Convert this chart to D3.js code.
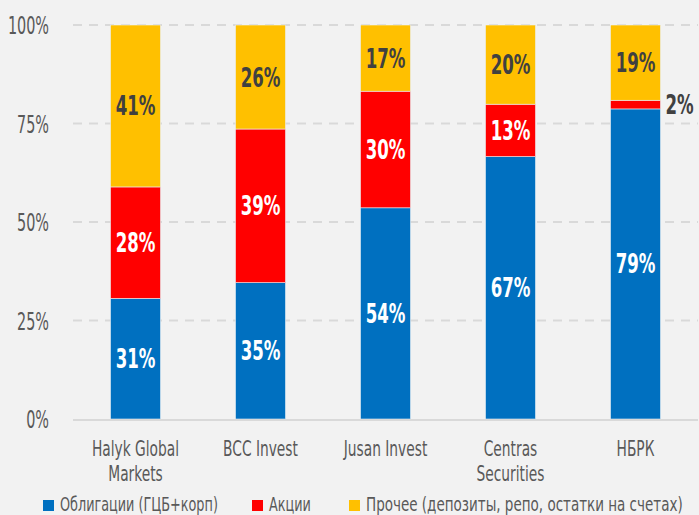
<!DOCTYPE html>
<html>
<head>
<meta charset="utf-8">
<script src="https://cdn.jsdelivr.net/npm/d3@7"></script>
<style>
  body { margin: 0; background: #F2F2F2; }
  svg { display: block; font-family: "DejaVu Sans Condensed", "DejaVu Sans", sans-serif; }
</style>
</head>
<body>
<svg id="chart" width="699" height="515"></svg>
<script>
// data
const categories = [["Halyk Global", "Markets"], ["BCC Invest"], ["Jusan Invest"], ["Centras", "Securities"], ["НБРК"]];
const seriesNames = ["Облигации (ГЦБ+корп)", "Акции", "Прочее (депозиты, репо, остатки на счетах)"];
const bonds  = [30.6, 34.6, 53.6, 66.6, 78.7];
const stocks = [28.3, 39.0, 29.6, 13.3, 2.2];
const other  = [41.1, 26.4, 16.8, 20.1, 19.1];
const yTicks = [0, 25, 50, 75, 100];
const colors = ["#0070C0", "#FF0000", "#FFC000"];

const svg = d3.select('#chart');
const plotLeft = 73, plotRight = 698, plotTop = 25, plotBottom = 419;

const x = d3.scaleBand()
    .domain(d3.range(categories.length))
    .range([plotLeft, plotRight])
    .paddingInner(0.6)
    .paddingOuter(0.3);
const y = d3.scaleLinear().domain([0, 100]).range([plotBottom, plotTop]);

// squeeze text horizontally, the original font is a narrow DIN-like face
function place(px, py, sx) {
    return `translate(${px},${py}) scale(${sx},1)`;
}

// gridlines
svg.append('g')
    .selectAll('line')
    .data(yTicks.filter(d => d > 0))
    .join('line')
    .attr('x1', plotLeft)
    .attr('x2', plotRight)
    .attr('y1', d => y(d))
    .attr('y2', d => y(d))
    .attr('stroke', '#D9D9D9')
    .attr('stroke-width', 2)
    .attr('stroke-dasharray', '9,7');

// y tick labels
svg.append('g')
    .selectAll('text')
    .data(yTicks)
    .join('text')
    .attr('transform', d => place(49, y(d) + 9, 0.64))
    .attr('text-anchor', 'end')
    .attr('font-size', 25)
    .attr('fill', '#595959')
    .text(d => d + '%');

// stack
const rows = categories.map((c, i) => ({i: i, bonds: bonds[i], stocks: stocks[i], other: other[i]}));
const stack = d3.stack().keys(['bonds', 'stocks', 'other'])(rows);

const layers = svg.append('g')
    .selectAll('g')
    .data(stack)
    .join('g')
    .attr('fill', (d, k) => colors[k]);

layers.selectAll('rect')
    .data(d => d)
    .join('rect')
    .attr('x', d => x(d.data.i))
    .attr('width', x.bandwidth())
    .attr('y', d => y(d[1]))
    .attr('height', d => y(d[0]) - y(d[1]))
    .attr('stroke', '#EAF0F6')
    .attr('stroke-width', 0.6);

// baseline
svg.append('line')
    .attr('x1', plotLeft)
    .attr('x2', plotRight)
    .attr('y1', plotBottom + 1)
    .attr('y2', plotBottom + 1)
    .attr('stroke', '#D9D9D9')
    .attr('stroke-width', 2);

// value labels
stack.forEach((layer, k) => {
    svg.append('g')
        .selectAll('text')
        .data(layer)
        .join('text')
        .attr('transform', d => {
            const small = (d[1] - d[0]) < 5;
            const px = small ? x(d.data.i) + x.bandwidth() + 5 : x(d.data.i) + x.bandwidth() / 2;
            return place(px, y((d[0] + d[1]) / 2) + 9.5, 0.71);
        })
        .attr('text-anchor', d => (d[1] - d[0]) < 5 ? 'start' : 'middle')
        .attr('font-size', 26)
        .attr('font-weight', 'bold')
        .attr('fill', d => (k === 2 || (d[1] - d[0]) < 5) ? '#404040' : '#FFFFFF')
        .text(d => Math.round(d[1] - d[0]) + '%');
});

// category labels
svg.append('g')
    .selectAll('g')
    .data(categories)
    .join('g')
    .each(function(lines, i) {
        d3.select(this)
            .selectAll('text')
            .data(lines)
            .join('text')
            .attr('transform', (d, j) => place(x(i) + x.bandwidth() / 2, 456 + j * 25, 0.73))
            .attr('text-anchor', 'middle')
            .attr('font-size', 21)
            .attr('fill', '#595959')
            .text(d => d);
    });

// legend
const legendX = [43, 252, 349];
const legend = svg.append('g')
    .selectAll('g')
    .data(seriesNames)
    .join('g')
    .attr('transform', (d, k) => `translate(${legendX[k]},500)`);
legend.append('rect')
    .attr('width', 11)
    .attr('height', 11)
    .attr('fill', (d, k) => colors[k]);
legend.append('text')
    .attr('transform', (d, k) => place(17, 10.5, k === 2 ? 0.79 : 0.75))
    .attr('font-size', 19)
    .attr('fill', '#595959')
    .text(d => d);
</script>
</body>
</html>
